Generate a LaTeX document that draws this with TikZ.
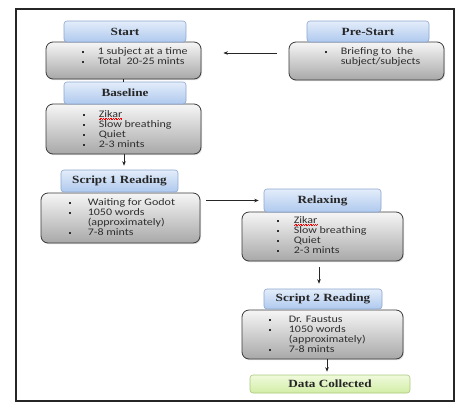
\documentclass[tikz,border=0pt]{standalone}
\usepackage{fontspec}
\usepackage{graphicx}
\setmainfont{Liberation Serif}
\newfontfamily\bodyfont{Carlito}
\usetikzlibrary{shadows,calc,arrows.meta}
\definecolor{hdtop}{HTML}{E3EDFA}
\definecolor{hdbot}{HTML}{AFC9EE}
\definecolor{hdline}{HTML}{8DA6CF}
\definecolor{bdtop}{HTML}{F6F6F6}
\definecolor{bdbot}{HTML}{A8A8A8}
\definecolor{bdline}{HTML}{3A3A3A}
\definecolor{gntop}{HTML}{F0FADC}
\definecolor{gnbot}{HTML}{D2EDA6}
\definecolor{gnline}{HTML}{A9C97A}
\definecolor{txt}{HTML}{2E2E2E}
\newlength\zkw
\newcommand\bulsq{\rule[1.3pt]{2.1pt}{2.1pt}}
\newcommand\redwave[1]{\settowidth\zkw{#1}\rlap{\textcolor{red}{\leaders\hbox{\rule[-1.5pt]{0.7pt}{0.45pt}\rule[-1.0pt]{0.7pt}{0.45pt}}\hskip\zkw}}#1}
\newcommand\itemlist[2]{\scalebox{1.2}[1]{\begin{tabular}[t]{@{}p{#1}@{}l@{}}#2\end{tabular}}}
\newcommand\hd[1]{\scalebox{1.2}[1]{#1}}
\begin{document}
\begin{tikzpicture}[x=1pt,y=-1pt,
  head/.style={draw=hdline,line width=0.6pt,rounded corners=3pt,top color=hdtop,bottom color=hdbot,
    inner sep=0pt,font=\fontsize{11}{13}\selectfont\bfseries,text=black!85},
  body/.style={draw=bdline,line width=0.8pt,rounded corners=7pt,top color=bdtop,bottom color=bdbot,
    inner sep=0pt,drop shadow={opacity=0.25,shadow xshift=1pt,shadow yshift=-1.2pt}},
  green/.style={draw=gnline,line width=0.6pt,rounded corners=3pt,top color=gntop,bottom color=gnbot,
    inner sep=0pt,font=\fontsize{11}{13}\selectfont\bfseries,text=black!85},
  list/.style={anchor=base west,inner sep=0pt,font=\bodyfont\fontsize{10}{9.7}\selectfont,text=txt},
  arr/.style={draw=black!85,line width=0.6pt,-{Stealth[length=4.5pt,width=3.5pt]}},
  con/.style={draw=black!85,line width=0.6pt}]
\useasboundingbox (0,0) rectangle (474,416);
\fill[white] (0,0) rectangle (474,416);
\draw[line width=1.4pt,draw=black!85] (16,9) rectangle (454,401);

% bodies
\node[body,minimum width=155pt,minimum height=37pt] (startbody) at (123.5,60.5) {};
\node[body,minimum width=155pt,minimum height=38pt] (prebody) at (366.5,61) {};
\node[body,minimum width=155pt,minimum height=50pt] (basebody) at (123.5,129) {};
\node[body,minimum width=159pt,minimum height=50pt] (sonebody) at (120.5,218) {};
\node[body,minimum width=161pt,minimum height=49pt] (relaxbody) at (322.5,236.5) {};
\node[body,minimum width=161pt,minimum height=49pt] (stwobody) at (322.5,334.5) {};

% headers
\node[head,minimum width=122pt,minimum height=21pt] (starthead) at (125,31.5) {\hd{Start}};
\node[head,minimum width=122pt,minimum height=21pt] (prehead) at (368,31.5) {\hd{Pre-Start}};
\node[head,minimum width=122pt,minimum height=22pt] (basehead) at (125,93) {\hd{Baseline}};
\node[head,minimum width=117pt,minimum height=22pt] (sonehead) at (119.5,181) {\hd{Script 1 Reading}};
\node[head,minimum width=117pt,minimum height=23pt] (relaxhead) at (322.5,200.5) {\hd{Relaxing}};
\node[head,minimum width=118pt,minimum height=20pt] (stwohead) at (323,299) {\hd{Script 2 Reading}};
\node[green,minimum width=160pt,minimum height=18pt] (data) at (330,384) {\hd{Data Collected}};

% lists
\node[list] (startlist) at ($(startbody.north west)+(36,13)$)
  {\itemlist{13.3pt}{\bulsq & 1 subject at a time\\ \bulsq & Total\ \ 20-25 mints}};
\node[list] (prelist) at ($(prebody.north west)+(36,13)$)
  {\itemlist{13.3pt}{\bulsq & Briefing to\ \ the\\ & subject/subjects}};
\node[list] (baselist) at ($(basebody.north west)+(37,14)$)
  {\itemlist{13.3pt}{\bulsq & \redwave{Zikar}\\ \bulsq & Slow breathing\\ \bulsq & Quiet\\ \bulsq & 2-3 mints}};
\node[list] (sonelist) at ($(sonebody.north west)+(28,13)$)
  {\itemlist{15.8pt}{\bulsq & Waiting for Godot\\ \bulsq & 1050 words\\ & (approximately)\\ \bulsq & 7-8 mints}};
\node[list] (relaxlist) at ($(relaxbody.north west)+(35,12)$)
  {\itemlist{14.2pt}{\bulsq & \redwave{Zikar}\\ \bulsq & Slow breathing\\ \bulsq & Quiet\\ \bulsq & 2-3 mints}};
\node[list] (stwolist) at ($(stwobody.north west)+(27,13)$)
  {\itemlist{16.7pt}{\bulsq & Dr. Faustus\\ \bulsq & 1050 words\\ & (approximately)\\ \bulsq & 7-8 mints}};

% connectors
\draw[arr] ([xshift=-12pt,yshift=8pt]prebody.west) -- ([xshift=22pt,yshift=7.5pt]startbody.east);
\draw[con] (startbody.south) -- (startbody.south |- basehead.north);
\coordinate (bsd) at ($(basebody.south)+(0.5,0)$);
\draw[arr,shorten >=4pt] (bsd) -- (bsd |- sonehead.north);
\coordinate (s1e) at ($(sonebody.east |- relaxhead.west)+(6,0)$);
\draw[arr,shorten >=5pt] (s1e) -- (relaxhead.west);
\coordinate (rbs) at ($(relaxbody.south)+(-3.5,6)$);
\draw[arr,shorten >=5pt] (rbs) -- (rbs |- stwohead.north);
\coordinate (sbs) at ($(stwobody.south)+(4.5,0)$);
\draw[arr,shorten >=3pt] (sbs) -- (sbs |- data.north);
\end{tikzpicture}
\end{document}
